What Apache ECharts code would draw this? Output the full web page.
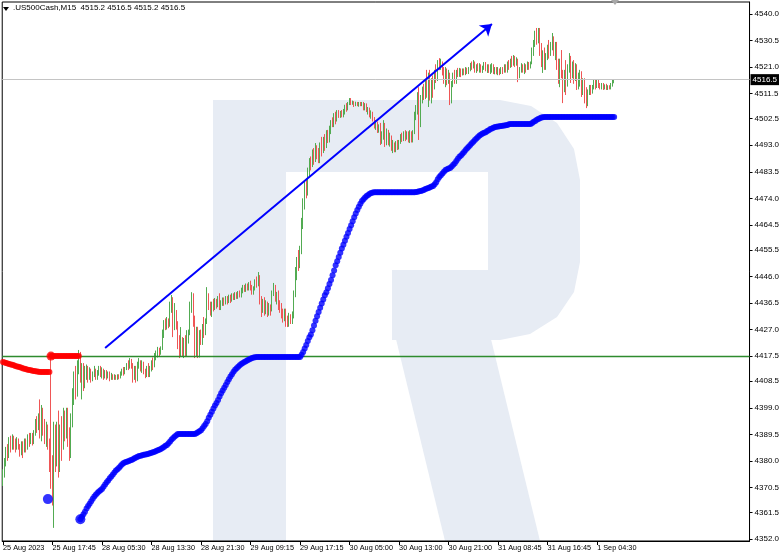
<!DOCTYPE html>
<html><head><meta charset="utf-8">
<script src="https://cdn.jsdelivr.net/npm/echarts@6/dist/echarts.min.js"></script>
<style>html,body{margin:0;padding:0;background:#fff}#c{width:782px;height:557px}</style>
</head><body><div id="c"></div>
<script>
const headerText = '.US500Cash,M15  4515.2 4516.5 4515.2 4516.5';
const xTickLabels = ['25 Aug 2023','25 Aug 17:45','28 Aug 05:30','28 Aug 13:30','28 Aug 21:30','29 Aug 09:15','29 Aug 17:15','30 Aug 05:00','30 Aug 13:00','30 Aug 21:00','31 Aug 08:45','31 Aug 16:45','1 Sep 04:30'];
const xTickEvery = 32;
const yTickLabels = ['4540.0','4530.5','4521.0','4511.5','4502.5','4493.0','4483.5','4474.0','4464.5','4455.5','4446.0','4436.5','4427.0','4417.5','4408.5','4399.0','4389.5','4380.0','4370.5','4361.5','4352.0'];
const barSlots = 483;
// [open, close, low, high]
const candles = [
[4373,4376,4371,4377],[4376,4379,4374,4381],[4379,4384,4378,4385],[4384,4382,4380,4386],[4382,4387,4381,4388.5],
[4387,4385,4383,4389],[4385,4388,4384,4389.5],[4388,4386,4384,4389],[4386,4384.5,4383,4388],[4384.5,4387,4384,4388.5],
[4387,4385,4384,4388],[4385,4383,4381.5,4386],[4383,4386,4382,4387],[4386,4384,4381,4387],[4384,4387,4383,4388],
[4387,4385,4383,4388],[4385,4388,4384,4389.5],[4388,4386.5,4385,4390],[4386.5,4389,4386,4390],[4389,4387,4385.5,4390],
[4387,4390,4386,4391],[4390,4394,4389,4395],[4394,4392,4390,4396],[4392,4396,4391,4397],[4396,4390,4388,4402],
[4390,4398,4387,4400],[4398,4393,4389,4399],[4393,4388,4386,4395],[4388,4392,4385,4394],[4392,4386,4384,4393],
[4386,4381,4376,4388],[4384,4372,4370,4417],[4378,4368,4364,4382],[4366,4386,4356,4394],[4386,4381,4376,4393],
[4381,4392,4378,4394],[4392,4380,4374,4398],[4380,4390,4376,4393],[4390,4385,4380,4396],[4385,4396,4384,4399],
[4396,4390,4387,4398],[4390,4397,4388,4399],[4397,4388,4385,4399],[4388,4383,4380,4392],[4383,4394,4381,4397],
[4394,4404,4392,4406],[4404,4410,4400,4412],[4410,4405,4402,4414],[4405,4414,4403,4416],[4414,4418,4411,4419.7],
[4418,4410,4408,4419],[4410,4414,4402,4415],[4414,4408,4405,4415],[4408,4411,4406,4414],[4411,4413,4409,4414.5],
[4413,4410,4408,4414],[4410,4412,4409,4413.5],[4412,4409.5,4408,4413],[4409.5,4411,4408.5,4412],[4411,4412.5,4410,4414],
[4412.5,4410,4409,4413],[4410,4411.5,4409,4412.5],[4411.5,4413,4410.5,4414],[4413,4411,4410,4414],[4411,4412,4409.5,4413.5],
[4412,4410.5,4409,4413],[4410.5,4411.5,4409.5,4412.5],[4411.5,4410,4409,4412.5],[4410,4411,4409.5,4412],[4411,4409.5,4408.5,4412],
[4409.5,4410.5,4409,4411.5],[4410.5,4409.5,4409,4411],[4409.5,4410,4409,4411],[4410,4409.5,4409,4410.8],[4409.5,4410.3,4409,4411],
[4410.3,4409.8,4409.2,4411],[4409.8,4411,4409.5,4412],[4411,4412.5,4410.5,4413],[4412.5,4411.5,4410.5,4413.6],[4411.5,4413,4411,4413.6],
[4413,4414.5,4412.5,4415],[4414.5,4413.5,4412.5,4416],[4413.5,4415.5,4413,4416.8],[4415.5,4414,4413,4416.5],[4414,4410,4408,4415],
[4410,4413,4409,4414],[4413,4409,4408,4414],[4409,4414,4408.5,4415.5],[4414,4415.5,4413,4416.8],[4415.5,4413,4412,4416],
[4413,4415,4411.5,4416],[4415,4412,4411,4415.5],[4412,4410.5,4409.6,4413],[4410.5,4413,4410,4414],[4413,4411,4410,4415],
[4411,4413,4410,4414],[4413,4415,4412,4416],[4415,4414,4412.5,4417],[4414,4417,4413.5,4418.6],[4417,4418,4416,4419.5],
[4418,4419.5,4417,4420.8],[4419.5,4418.5,4417.5,4420.5],[4418.5,4420,4418,4421],[4420,4426,4419.7,4427],[4426,4429,4424,4430.4],
[4429,4427.5,4426.8,4431],[4427.5,4430,4427,4431.5],[4430,4428.5,4427.5,4431],[4428.5,4436,4428,4437],[4436,4438,4433,4439.4],
[4438,4427,4424.3,4438.6],[4427,4433,4426.8,4436.5],[4433,4429,4427,4434],[4429,4422,4420,4430],[4422,4419,4416.8,4425],
[4419,4424,4417.5,4427.9],[4424,4420,4417.5,4424.3],[4420,4423,4416.8,4424],[4423,4418,4417.2,4425],[4418,4424,4417.5,4426.8],
[4424,4426,4422,4427],[4426,4436,4425,4437],[4436,4439,4433,4440.4],[4439,4430,4428,4440],[4430,4420,4416.8,4432],
[4420,4427,4417.5,4428],[4427,4419,4416.8,4428],[4419,4424,4417,4426.8],[4424,4422,4421.5,4427],[4422,4428,4421.5,4429],
[4428,4426,4424,4431.5],[4426,4430,4425,4431],[4430,4439,4429,4442.2],[4439,4436,4434,4440],[4436,4434,4432,4437],
[4434,4436,4431.5,4437],[4436,4435,4433.5,4438],[4435,4437,4434,4438.3],[4437,4436,4434.5,4438],[4436,4438.5,4435,4439],
[4438.5,4434.5,4434,4440],[4434.5,4436.5,4434,4437.5],[4436.5,4437.5,4435.5,4438.5],[4437.5,4436.5,4435.5,4438.5],[4436.5,4438,4436,4439],
[4438,4437,4436,4439],[4437,4438.5,4436.5,4439.5],[4438.5,4437.5,4436.5,4439.5],[4437.5,4439,4437,4440],[4439,4438,4437.6,4440],
[4438,4439.5,4437.6,4440.4],[4439.5,4438.5,4438,4440.4],[4438.5,4440,4438,4440.8],[4440,4439,4438.5,4441],[4439,4441,4438.5,4442],
[4441,4442,4440,4443],[4442,4441,4440.5,4443],[4441,4442.5,4440.5,4443.5],[4442.5,4441.5,4441,4443.5],[4441.5,4443,4441,4444],
[4443,4442,4441,4444.5],[4442,4440,4439.5,4443],[4440,4441.5,4439.5,4442.5],[4441.5,4444,4441,4445],[4444,4443,4442,4446],
[4443,4446,4442.5,4447.6],[4446,4438,4436,4446.5],[4438,4434,4431.5,4439],[4434,4437,4433,4438],[4437,4434,4432,4438.6],
[4434,4436,4432.5,4437.5],[4436,4433,4431.5,4437],[4433,4435,4432,4436.5],[4435,4434,4432,4436],[4434,4440,4433.5,4441],
[4440,4442,4439,4443.7],[4442,4438,4437,4443],[4438,4439.5,4436,4440.5],[4439.5,4436,4434,4441],[4436,4435,4433,4437.5],
[4435,4433,4431,4436.5],[4433,4431,4429.5,4434.5],[4431,4433.5,4430,4434.5],[4433.5,4430,4428,4434.5],[4430,4429,4427.9,4432],
[4429,4431,4428,4433],[4431,4430,4429,4432.5],[4430,4432,4429,4433.5],[4432,4440,4431,4441],[4440,4447,4438.6,4449.4],
[4447,4452,4444.7,4453],[4452,4450,4448,4455.5],[4450,4455,4449,4457],[4455,4465,4454,4467],[4465,4472,4463,4474],
[4472,4478,4470,4480.5],[4478,4476,4474,4481],[4476,4483,4475,4485],[4483,4487,4481.6,4488.4],[4487,4485.5,4484,4489],
[4485.5,4490,4485.2,4491.5],[4490,4488,4486,4492],[4488,4492,4487,4493.8],[4492,4490,4488,4493],[4490,4487,4486.6,4492],
[4487,4493,4486.6,4494],[4493,4491,4489,4496],[4491,4495,4490.2,4496],[4495,4493,4491,4497],[4493,4497,4492,4498.4],
[4497,4495,4493.8,4498.5],[4495,4499,4494,4500],[4499,4501,4497,4502],[4501,4500,4499.5,4503],[4500,4503,4499.5,4504.5],
[4503,4502,4500.5,4505],[4502,4504.5,4501.5,4505.6],[4504.5,4503,4502.8,4505.6],[4503,4504.5,4502.8,4505.3],[4504.5,4503.5,4503,4505.6],
[4503.5,4505,4503,4506],[4505,4507,4504,4507.5],[4507,4506,4505,4508.1],[4506,4508,4505.5,4508.5],[4508,4509,4507.4,4509.9],
[4509,4508,4507.4,4509.9],[4508,4508.5,4507.5,4509],[4508.5,4507.5,4506.7,4508.8],[4507.5,4508.2,4507,4508.6],[4508.2,4507.4,4507,4508.5],
[4507.4,4508,4506.8,4508.5],[4508,4507.5,4507,4508.5],[4507.5,4508.3,4507,4508.5],[4508.3,4506.5,4505.5,4508.5],[4506.5,4507.5,4505.5,4508.1],
[4507.5,4505,4504.9,4508],[4505,4506,4504,4506.7],[4506,4503.5,4503,4506.5],[4503.5,4504.5,4502.5,4505.5],[4504.5,4502,4501.5,4505],
[4502,4500,4499,4503.1],[4500,4501,4498.5,4502],[4501,4498,4497.4,4501.5],[4498,4499.5,4497.5,4500.5],[4499.5,4494,4493.1,4501],
[4494,4497,4493.5,4498],[4497,4500,4495,4502],[4500,4495,4492.4,4501],[4495,4497,4493,4499],[4497,4494,4493,4498.5],
[4494,4496,4492.5,4497.5],[4496,4492,4491,4496.5],[4492,4493.5,4490.2,4494.9],[4493.5,4491,4490.5,4494],[4491,4493,4490.5,4494.5],
[4493,4492,4491.3,4494.9],[4492,4494,4491.5,4494.9],[4494,4496,4493.5,4497],[4496,4495,4494.2,4497.5],[4495,4497,4494.5,4498],
[4497,4495.5,4494.5,4498.4],[4495.5,4497,4495,4498],[4497,4495,4494,4498],[4495,4497.5,4493.8,4498.4],[4497.5,4494.5,4494,4498],
[4494.5,4498,4494,4498.4],[4498,4504,4497,4505],[4504,4506,4502,4507.4],[4506,4511,4504,4512],[4511,4501,4494.9,4513.8],
[4501,4510,4499.5,4511],[4510,4513,4508,4514],[4513,4510,4509.2,4515],[4510,4515,4509.5,4516.4],[4515,4512,4510,4520],
[4512,4518,4506.7,4519],[4518,4511,4509,4520],[4511,4516,4508,4517],[4516,4514,4510,4518],[4514,4519,4513,4520],
[4519,4517,4515.3,4522],[4517,4522,4516,4523.5],[4522,4521,4519.9,4524.2],[4521,4522.5,4520,4524],[4522.5,4519,4518,4523],
[4519,4517,4515,4521],[4517,4520,4513.8,4521],[4520,4516,4514.5,4520.5],[4516,4518,4515,4520],[4518,4510,4507.4,4519],
[4510,4514,4508,4516],[4514,4518,4513.8,4519],[4518,4516,4515,4520],[4516,4519,4515,4520],[4519,4518,4517.4,4520.7],
[4518,4520,4517.5,4520.7],[4520,4518.5,4517.4,4520.5],[4518.5,4519.5,4518,4520.5],[4519.5,4518.5,4518.1,4520.5],[4518.5,4520,4518.1,4521],
[4520,4519,4518.5,4520.8],[4519,4520.5,4518.5,4521],[4520.5,4522,4519.5,4522.5],[4522,4521,4520,4523],[4521,4522.5,4520.5,4523.5],
[4522.5,4520,4519,4523],[4520,4521.5,4518.9,4522],[4521.5,4520.5,4519.5,4522.4],[4520.5,4521.5,4519,4522.4],[4521.5,4520,4519,4522],
[4520,4521,4518.9,4521.5],[4521,4522,4520,4522.8],[4522,4520.5,4519.5,4522.8],[4520.5,4521.5,4518.9,4522],[4521.5,4519.5,4518.9,4522],
[4519.5,4520.5,4518.5,4522],[4520.5,4521.5,4519,4522.4],[4521.5,4519.5,4518.5,4522],[4519.5,4520.5,4518.4,4521],[4520.5,4519,4518.4,4521],
[4519,4520,4518.1,4521],[4520,4519,4518.1,4520.5],[4519,4520.5,4518.5,4521],[4520.5,4519.5,4518.5,4521],[4519.5,4521,4519,4522],
[4521,4520,4519,4522],[4520,4522,4519,4523],[4522,4521,4520,4523.5],[4521,4523,4520.7,4524],[4523,4522,4521,4525],
[4522,4524,4521.5,4525.3],[4524,4522.5,4521,4525],[4522.5,4523.5,4521.5,4524.5],[4523.5,4518,4515.6,4524],[4518,4520,4517,4521],
[4520,4521.5,4519,4522.4],[4521.5,4520,4519,4522],[4520,4521.5,4518.5,4522.4],[4521.5,4520.5,4519,4522],[4520.5,4522,4520,4523],
[4522,4521,4520,4522.8],[4521,4522.5,4520.5,4523],[4522.5,4527,4522,4528],[4527,4530,4525,4530.7],[4530,4533,4528.2,4534],
[4533,4531,4529,4535],[4531,4534,4529.5,4535],[4534,4527,4525,4535],[4527,4523,4521,4529.6],[4523,4526,4518.9,4527],
[4526,4521,4520,4528],[4521,4525,4520,4526],[4525,4528,4523.5,4529],[4528,4526,4524,4530.7],[4526,4529,4525,4530],
[4529,4531,4527,4533.2],[4531,4527,4525,4532],[4527,4529,4523.5,4530],[4529,4522,4520,4530],[4522,4518,4515,4524],
[4518,4523,4513.8,4524],[4523,4519,4517,4527.1],[4519,4514,4508.1,4520],[4514,4518,4512,4520],[4518,4515,4511,4523.5],
[4515,4521,4514,4522],[4521,4524,4519,4526],[4524,4519,4515.3,4525],[4519,4522,4517,4523],[4522,4518,4515,4523.5],
[4518,4521,4516,4522.4],[4521,4515,4512.8,4522],[4515,4517,4513,4519],[4517,4519,4514,4520],[4519,4513,4510.3,4519.5],
[4513,4516,4511,4517],[4516,4510,4508,4517],[4510,4508,4506.3,4513.8],[4508,4512,4507,4513],[4512,4513.5,4511,4514.6],
[4513.5,4512,4511,4514.6],[4512,4514,4511.5,4514.6],[4514,4515.5,4513,4516.4],[4515.5,4514,4513,4516.4],[4514,4516,4513.5,4516.4],
[4516,4515,4513.5,4516.4],[4515,4514,4513,4515.3],[4514,4515,4513,4515.3],[4515,4513.5,4512.8,4515.3],[4513.5,4514,4513,4514.8],
[4514,4513,4512.8,4515],[4513,4514,4512.8,4514.5],[4514,4513.5,4513,4514.5],[4513.5,4515,4513,4515.3],[4515,4515.8,4514,4516.4],
[4515.2,4516.5,4515.2,4516.5]
];
// red trailing line, bars 0..49
const redValues = [4415.4,4415.2,4415.0,4414.9,4414.7,4414.5,4414.4,4414.2,4414.0,4413.8,4413.7,4413.5,4413.3,4413.1,4413.0,4412.8,4412.6,4412.5,4412.4,4412.3,4412.2,4412.1,4412.0,4411.9,4411.8,
4411.8,4411.8,4411.8,4411.8,4411.8,4411.8,
4417.5,4417.5,4417.5,4417.5,4417.5,4417.5,4417.5,4417.5,4417.5,4417.5,4417.5,4417.5,4417.5,4417.5,4417.5,4417.5,4417.5,4417.5,4417.5];
// blue trailing line, from bar 50
const blueStart = 50;
const blueValues = [
4359.1,4360.0,4360.9,4361.8,4362.9,4363.8,4364.6,4365.5,4366.4,4367.2,4367.9,4368.5,4369.0,4369.5,
4369.9,4370.7,4371.5,4372.3,4373.0,4373.8,4374.4,4375.1,4375.8,4376.5,4377.0,4377.5,4378.2,4378.8,4379.2,4379.5,
4379.7,4379.9,4380.1,4380.3,4380.6,4380.9,4381.2,4381.5,4381.7,4381.8,4382.0,4382.2,4382.3,4382.4,4382.5,4382.7,4382.9,4383.1,4383.3,4383.5,
4383.8,4384.0,4384.2,4384.6,4385.0,4385.4,4385.7,4386.3,4386.9,4387.6,4388.2,4388.7,4389.2,4389.6,
4389.6,4389.6,4389.6,4389.6,4389.6,4389.6,4389.6,4389.6,4389.6,4389.6,4389.6,
4389.9,4390.2,4390.6,4391.0,4391.7,4392.5,4393.2,4394.2,4395.4,4396.5,4397.6,4398.7,4399.8,4400.7,4401.8,4403.0,4404.2,4405.2,4406.2,4407.2,4408.2,4409.2,4410.2,4411.0,4411.9,4412.6,4413.2,4413.7,4414.2,4414.7,4415.0,4415.4,4415.7,4416.0,4416.3,4416.6,4416.8,4417.0,4417.1,
4417.2,4417.2,4417.2,4417.2,4417.2,4417.2,4417.2,4417.2,4417.2,4417.2,4417.2,4417.2,4417.2,4417.2,4417.2,4417.2,4417.2,4417.2,4417.2,4417.2,4417.2,4417.2,4417.2,4417.2,4417.2,4417.2,4417.2,4417.2,4417.2,
4418.0,4419.0,4420.2,4421.5,4422.9,4424.3,4425.2,4426.8,4428.5,4430.2,4431.8,4433.3,4434.8,4436.3,4437.8,4439.3,4440.4,4441.8,4443.3,4444.8,4446.5,4448.2,4450.0,4451.5,4453.0,4454.5,4456.0,4457.4,4458.8,4460.2,4461.6,4463.0,4464.4,4465.8,4467.2,4468.6,4469.8,4471.0,4472.1,4473.0,4473.7,4474.3,4474.8,4475.2,4475.6,4475.9,4476.1,
4476.2,4476.2,4476.2,4476.2,4476.2,4476.2,4476.2,4476.2,4476.2,4476.2,4476.2,4476.2,4476.2,4476.2,4476.2,4476.2,4476.2,4476.2,4476.2,4476.2,4476.2,4476.2,4476.2,4476.2,4476.2,4476.2,4476.2,
4476.3,4476.4,4476.5,4476.6,4476.8,4477.0,4477.3,4477.5,4477.7,4478.0,4478.2,4478.4,4479.0,4479.8,4480.8,4481.6,4482.3,4482.9,4483.5,4484.1,4484.4,4484.7,4484.9,
4485.4,4486.0,4486.6,4487.4,4488.2,4488.9,4489.3,4490.0,4490.6,4491.3,4491.9,4492.5,4493.1,4493.7,4494.3,4494.9,4495.4,4496.0,4496.5,4496.9,4497.2,4497.5,4497.7,4498.1,4498.4,4498.8,4499.0,4499.3,4499.5,4499.6,4499.7,4499.8,4499.9,4500.0,4500.1,4500.2,4500.3,4500.5,
4500.6,4500.6,4500.6,4500.6,4500.6,4500.6,4500.6,4500.6,4500.6,4500.6,4500.6,4500.6,4500.6,4500.6,
4501.0,4501.4,4501.7,4502.1,4502.4,4502.7,4502.9,4503.0,
4503.1,4503.1,4503.1,4503.1,4503.1,4503.1,4503.1,4503.1,4503.1,4503.1,4503.1,4503.1,4503.1,4503.1,4503.1,4503.1,4503.1,4503.1,4503.1,4503.1,4503.1,4503.1,4503.1,
4503.1,4503.1,4503.1,4503.1,4503.1,4503.1,4503.1,4503.1,4503.1,4503.1,4503.1,4503.1,4503.1,4503.1,4503.1,4503.1,4503.1,4503.1,4503.1,4503.1,4503.1,4503.1,4503.1
];
const blueSignals = [[29, 4366.3], [50, 4359.1]];
const redSignals = [[31, 4417.5]];
const levelPrice = 4417.5;
const lastPrice = 4516.5;
const trendStart = [66, 4420.4];
const trendEnd = [316, 4536.4];

const categories = [];
for (let i = 0; i < barSlots; i++) categories.push(String(i));
const yTickValues = yTickLabels.map(parseFloat);
const redData = redValues.map((v, i) => [i, v]);
const blueData = blueValues.map((v, i) => [blueStart + i, v]);
const xTickShow = (i) => i % xTickEvery === 0 && i / xTickEvery < xTickLabels.length;
const FONT = 'Liberation Sans';
const WM = '#e7ecf4';

const chart = echarts.init(document.getElementById('c'), null, {renderer: 'canvas'});
chart.setOption({
  animation: false,
  backgroundColor: '#ffffff',
  grid: {left: 1, right: 31, top: 2, bottom: 16, show: true, borderColor: '#000', borderWidth: 1, backgroundColor: 'transparent'},
  graphic: [
    {type: 'rect', z: -10, shape: {x: 213, y: 100, width: 73, height: 441}, style: {fill: WM}},
    {type: 'polygon', z: -10, shape: {points: [[286,100],[500,100],[531,106],[557,123],[574,149],[580,180],[580,262],[574,292],[557,317],[530,334],[500,340],[392,340],[392,270],[488,270],[488,172],[286,172]]}, style: {fill: WM}},
    {type: 'polygon', z: -10, shape: {points: [[395, 335], [490, 335], [540, 541], [445, 541]]}, style: {fill: WM}},
    {type: 'polygon', z: 10, shape: {points: [[3, 7], [9, 7], [6, 11]]}, style: {fill: '#000'}},
    {type: 'text', z: 10, left: 13, top: 4, style: {text: headerText, fill: '#000', font: '8px "Liberation Sans"'}},
    {type: 'polygon', z: 10, shape: {points: [[611, 0], [619, 0], [615, 5]]}, style: {fill: '#a8a8a8'}}
  ],
  xAxis: {
    type: 'category', data: categories, boundaryGap: true,
    axisLine: {show: true, lineStyle: {color: '#000', width: 1}},
    axisTick: {show: true, alignWithLabel: true, length: 4, interval: xTickShow, lineStyle: {color: '#000'}},
    axisLabel: {show: true, interval: xTickShow, formatter: (v, i) => xTickLabels[i / xTickEvery] || '', align: 'left', margin: 3, color: '#000', fontSize: 7.3, fontFamily: FONT},
    splitLine: {show: false}
  },
  yAxis: {
    type: 'value', position: 'right', min: 4351.3, max: 4544.3,
    axisLine: {show: true, lineStyle: {color: '#000', width: 1}},
    axisTick: {show: true, length: 3, customValues: yTickValues, lineStyle: {color: '#000'}},
    axisLabel: {show: true, customValues: yTickValues, margin: 5, color: '#000', fontSize: 8, fontFamily: FONT,
      formatter: (v) => { for (let k = 0; k < yTickValues.length; k++) if (Math.abs(yTickValues[k] - v) < 0.01) return yTickLabels[k]; return ''; }},
    splitLine: {show: false}
  },
  series: [
    {
      type: 'candlestick', data: candles, barWidth: 1, z: 3,
      itemStyle: {color: '#52ab52', color0: '#ef5656', borderColor: '#52ab52', borderColor0: '#ef5656', borderWidth: 1},
      markLine: {
        silent: true, symbol: 'none', animation: false,
        data: [
          {yAxis: lastPrice, lineStyle: {color: '#c4c4c4', width: 1, type: 'solid'},
            label: {show: true, position: 'end', distance: 1, formatter: lastPrice.toFixed(1), color: '#fff', backgroundColor: '#000', padding: [2, 2, 1, 2], fontSize: 8, fontFamily: FONT}},
          {yAxis: levelPrice, lineStyle: {color: '#2e8b2e', width: 1.3, type: 'solid'}, label: {show: false}}
        ]
      }
    },
    {type: 'scatter', data: redData, symbol: 'circle', symbolSize: 6, z: 5, itemStyle: {color: '#ff0000'}, silent: true},
    {type: 'scatter', data: blueData, symbol: 'circle', symbolSize: 6, z: 5, itemStyle: {color: '#0000ff'}, silent: true},
    {type: 'scatter', data: redSignals, symbol: 'circle', symbolSize: 9, z: 6, itemStyle: {color: '#ff0000'}, silent: true},
    {type: 'scatter', data: blueSignals, symbol: 'circle', symbolSize: 10, z: 6, itemStyle: {color: '#0000ff'}, silent: true},
    {
      type: 'line', data: [], z: 7, silent: true,
      markLine: {
        silent: true, animation: false, symbol: ['none', 'arrow'], symbolSize: 11,
        lineStyle: {color: '#0000ff', width: 2, type: 'solid'}, label: {show: false},
        data: [[{coord: trendStart}, {coord: trendEnd}]]
      }
    }
  ]
});
</script>
</body></html>
